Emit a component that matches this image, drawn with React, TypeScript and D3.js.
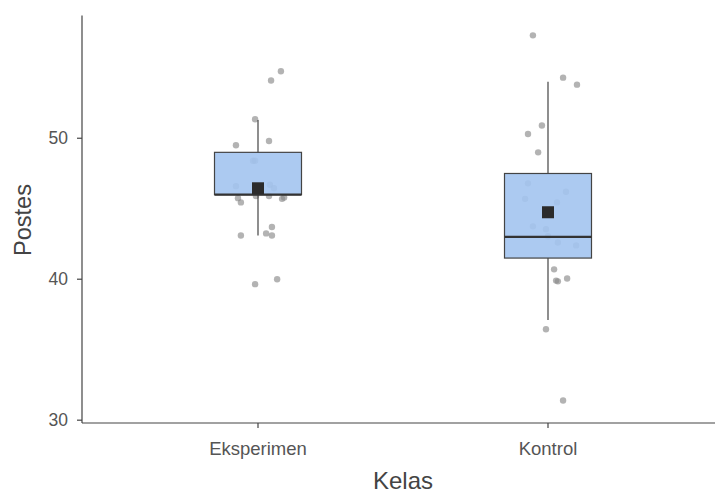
import React from 'react';
import * as d3 from 'd3';

const groups = ['Eksperimen', 'Kontrol'];

// box stats
const lowerWhisker = [43.1, 37.1];
const q1 = [46.0, 41.5];
const median = [46.0, 43.0];
const q3 = [49.0, 47.5];
const upperWhisker = [51.3, 54.0];
const means = [46.45, 44.75];

// jittered observations: [offset in category units, value]
const eksperimenPoints = [
  [0.079, 54.75], [0.045, 54.1], [-0.01, 51.35], [-0.076, 49.5], [0.038, 49.8],
  [-0.017, 48.4], [-0.01, 48.4], [-0.076, 46.6], [0.041, 46.7], [0.055, 46.45],
  [-0.069, 45.75], [-0.059, 45.45], [-0.007, 45.9], [0.038, 45.9], [0.083, 45.7],
  [0.09, 45.8], [0.048, 43.7], [-0.059, 43.1], [0.028, 43.25], [0.048, 43.1],
  [0.066, 40.0], [-0.01, 39.65],
];
const kontrolPoints = [
  [-0.052, 57.3], [0.052, 54.3], [0.1, 53.8], [-0.021, 50.9], [-0.069, 50.3],
  [-0.034, 49.0], [-0.069, 46.8], [-0.079, 45.7], [0.062, 46.2], [0.031, 45.45],
  [-0.052, 43.75], [-0.007, 43.55], [0.0, 43.05], [0.034, 42.6], [0.097, 42.4],
  [0.021, 40.7], [0.028, 39.9], [0.034, 39.85], [0.066, 40.05], [-0.007, 36.45],
  [0.052, 31.4],
];
const yTicks = [30, 40, 50];

const W = 715;
const H = 491;
const left = 82;
const right = 722;
const top = 15.6;
const bottom = 423;
const font = '"Liberation Sans", Arial, sans-serif';

export default function App() {
  const x = d3.scaleLinear().domain([0.4, 2.6]).range([left + 2, right]);
  const y = d3.scaleLinear().domain([29.8, 58.7]).range([bottom, top]);
  const boxHalf = x(1.15) - x(1);
  const pointSets = [eksperimenPoints, kontrolPoints];

  return (
    <svg width={W} height={H} style={{ position: 'absolute', left: 0, top: 0 }} fontFamily={font}>
      <rect width={W} height={H} fill="#fff" />
      {/* jittered points, drawn under the boxes */}
      {pointSets.map((pts, gi) =>
        pts.map(([dx, v], i) => (
          <circle key={`${gi}-${i}`} cx={x(gi + 1 + dx)} cy={y(v)} r={3.2} fill="#8a8a8a" fillOpacity={0.65} />
        ))
      )}
      {/* boxes */}
      {groups.map((g, i) => {
        const cx = x(i + 1);
        return (
          <g key={g}>
            <line x1={cx} x2={cx} y1={y(upperWhisker[i])} y2={y(q3[i])} stroke="#444" strokeWidth={1.2} />
            <line x1={cx} x2={cx} y1={y(q1[i])} y2={y(lowerWhisker[i])} stroke="#444" strokeWidth={1.2} />
            <rect
              x={cx - boxHalf}
              y={y(q3[i])}
              width={boxHalf * 2}
              height={y(q1[i]) - y(q3[i])}
              fill="#a3c4f0"
              fillOpacity={0.9}
              stroke="#444"
              strokeWidth={1.2}
            />
            <line x1={cx - boxHalf} x2={cx + boxHalf} y1={y(median[i])} y2={y(median[i])} stroke="#333" strokeWidth={2.4} />
            <rect x={cx - 6} y={y(means[i]) - 6} width={12} height={12} fill="#2b2b2b" />
          </g>
        );
      })}
      {/* axes */}
      <line x1={left} x2={left} y1={top} y2={bottom} stroke="#444" strokeWidth={1.2} />
      <line x1={left} x2={W} y1={bottom} y2={bottom} stroke="#444" strokeWidth={1.2} />
      {yTicks.map((t) => (
        <g key={t}>
          <line x1={left - 5} x2={left} y1={y(t)} y2={y(t)} stroke="#444" strokeWidth={1.2} />
          <text x={left - 14} y={y(t)} dy="0.35em" textAnchor="end" fontSize={17.5} fill="#555">
            {t}
          </text>
        </g>
      ))}
      {groups.map((g, i) => (
        <g key={g}>
          <line x1={x(i + 1)} x2={x(i + 1)} y1={bottom} y2={bottom + 5} stroke="#444" strokeWidth={1.2} />
          <text x={x(i + 1)} y={455} textAnchor="middle" fontSize={18.5} fill="#555">
            {g}
          </text>
        </g>
      ))}
      <text x={403} y={489} textAnchor="middle" fontSize={24} fill="#444">
        Kelas
      </text>
      <text transform={`translate(31,220) rotate(-90)`} textAnchor="middle" fontSize={23.5} fill="#444">
        Postes
      </text>
    </svg>
  );
}
